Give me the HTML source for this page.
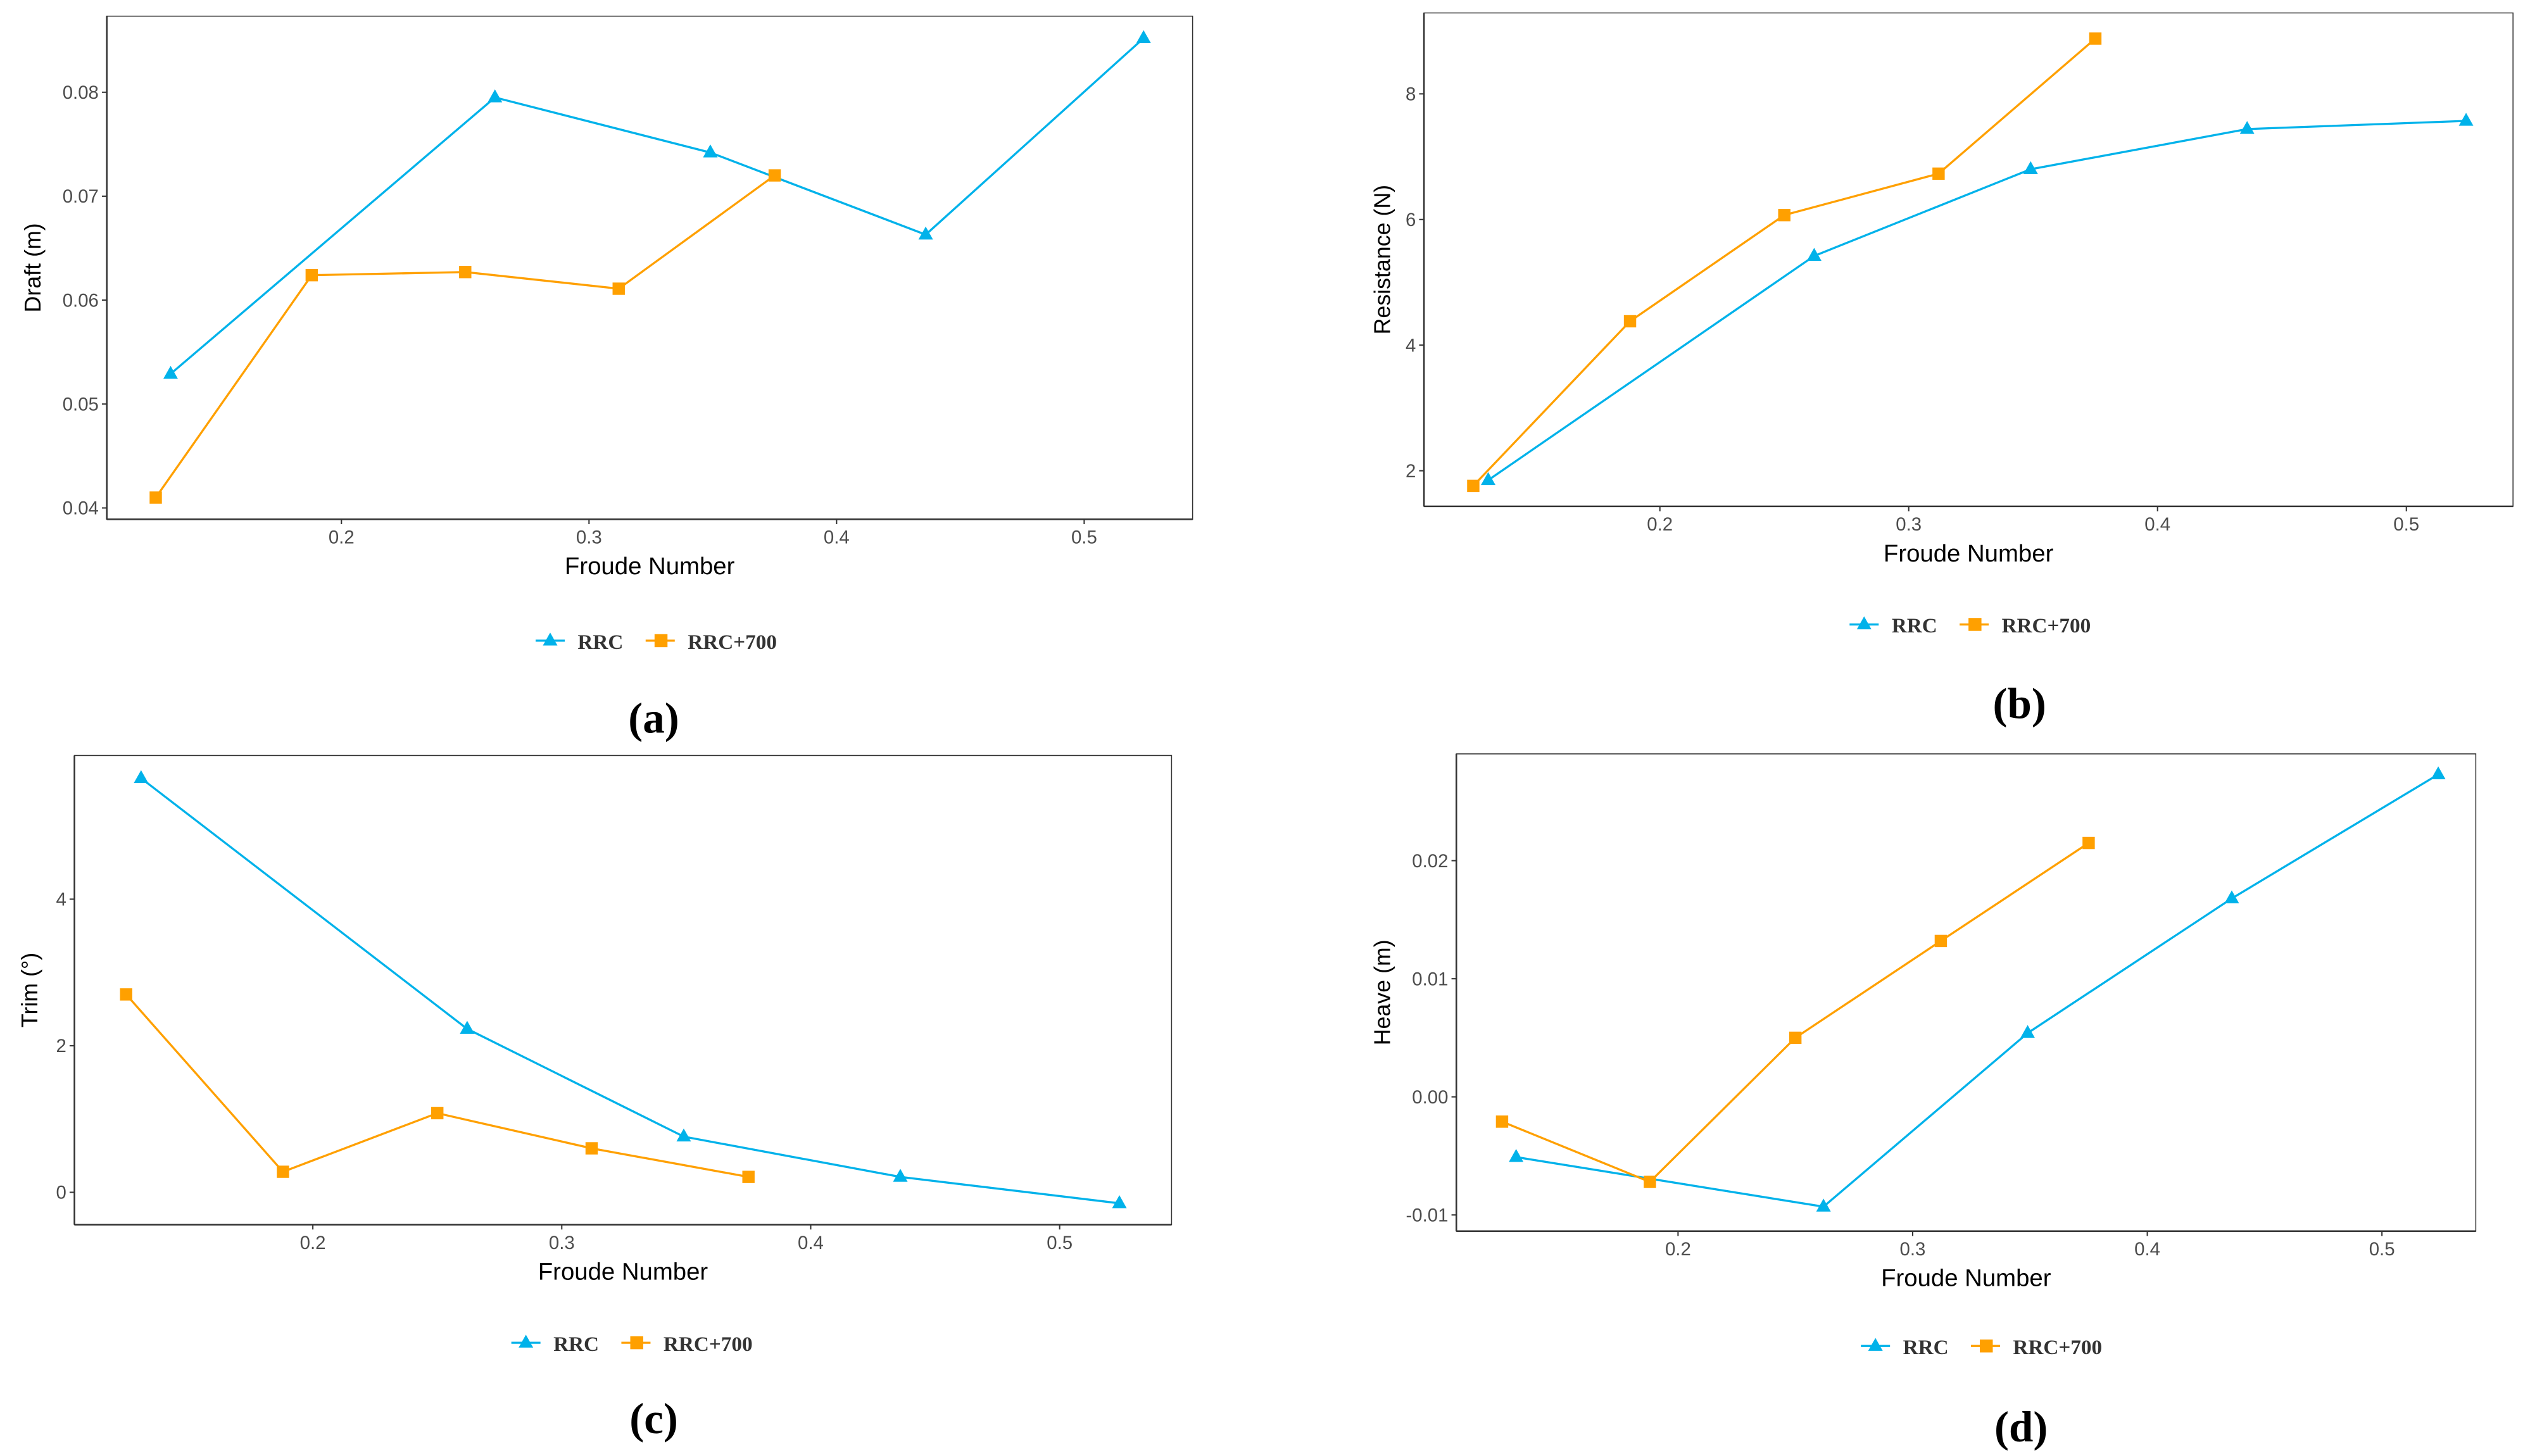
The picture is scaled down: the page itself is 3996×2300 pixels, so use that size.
<!DOCTYPE html>
<html><head><meta charset="utf-8"><style>
html,body{margin:0;padding:0;background:#fff;}
svg{display:block;}
</style></head><body>
<svg id="fig" width="3996" height="2300" viewBox="0 0 1563.5 900" preserveAspectRatio="none" xmlns="http://www.w3.org/2000/svg"></svg>
<script>
// Froude numbers
const fnRRC = [0.131, 0.262, 0.349, 0.436, 0.524];
const fnRRC700 = [0.125, 0.188, 0.25, 0.312, 0.375];
// Draft (m)
const draftRRC = [0.0529, 0.0795, 0.0742, 0.0663, 0.0852];
const draftRRC700 = [0.0410, 0.0624, 0.0627, 0.0611, 0.0720];
const draftTicks = [0.04, 0.05, 0.06, 0.07, 0.08];
const draftTickLabels = ["0.04", "0.05", "0.06", "0.07", "0.08"];
// Resistance (N)
const resRRC = [1.85, 5.42, 6.80, 7.44, 7.57];
const resRRC700 = [1.76, 4.38, 6.07, 6.73, 8.88];
const resTicks = [2, 4, 6, 8];
const resTickLabels = ["2", "4", "6", "8"];
// Trim (deg)
const trimRRC = [5.65, 2.23, 0.76, 0.21, -0.15];
const trimRRC700 = [2.70, 0.28, 1.08, 0.60, 0.21];
const trimTicks = [0, 2, 4];
const trimTickLabels = ["0", "2", "4"];
// Heave (m)
const heaveRRC = [-0.0051, -0.0093, 0.0054, 0.0168, 0.0273];
const heaveRRC700 = [-0.0021, -0.0072, 0.0050, 0.0132, 0.0215];
const heaveTicks = [-0.01, 0.00, 0.01, 0.02];
const heaveTickLabels = ["-0.01", "0.00", "0.01", "0.02"];
const xTicks = [0.2, 0.3, 0.4, 0.5];
const xTickLabels = ["0.2", "0.3", "0.4", "0.5"];

const NS = "http://www.w3.org/2000/svg";
const svg = document.getElementById('fig');
const BLUE = "#00b2ea", ORANGE = "#ffa000";
function mk(tag, attrs, parent){
  const e = document.createElementNS(NS, tag);
  for (const k in attrs) e.setAttribute(k, attrs[k]);
  (parent||svg).appendChild(e); return e;
}
function panel(o){
  const g = mk('g', {});
  
  
  const sx = v => o.x0 + (v - o.xd0)/(o.xd1 - o.xd0)*(o.x1 - o.x0);
  const sy = v => o.y1 - (v - o.yd0)/(o.yd1 - o.yd0)*(o.y1 - o.y0);
  const box = mk('rect', {x:o.x0, y:o.y0, width:o.x1-o.x0, height:o.y1-o.y0, fill:'none', stroke:'#333', 'stroke-width':0.6}, g);
  
  
  mk('line', {x1:o.x0, y1:o.y1, x2:o.x1, y2:o.y1, stroke:'#333', 'stroke-width':1}, g);
  mk('line', {x1:o.x0, y1:o.y0, x2:o.x0, y2:o.y1, stroke:'#333', 'stroke-width':1}, g);
  xTicks.forEach((t,i)=>{
    const x = sx(t);
    mk('line', {x1:x, y1:o.y1, x2:x, y2:o.y1+3, stroke:'#333', 'stroke-width':0.8}, g);
    const tx = mk('text', {x:x, y:o.y1+15, 'text-anchor':'middle', 'font-size':11.5, fill:'#4d4d4d', 'font-family':'Liberation Sans, sans-serif'}, g);
    tx.textContent = xTickLabels[i];
    
    
  });
  o.yt.forEach((t,i)=>{
    const y = sy(t);
    mk('line', {x1:o.x0-3, y1:y, x2:o.x0, y2:y, stroke:'#333', 'stroke-width':0.8}, g);
    const ty = mk('text', {x:o.x0-5, y:y+4, 'text-anchor':'end', 'font-size':11.5, fill:'#4d4d4d', 'font-family':'Liberation Sans, sans-serif'}, g);
    ty.textContent = o.ytl[i];
    
    
  });
  const xt = mk('text', {x:(o.x0+o.x1)/2, y:o.y1+34, 'text-anchor':'middle', 'font-size':15, fill:'#000', 'font-family':'Liberation Sans, sans-serif'}, g);
  xt.textContent = 'Froude Number';
  
  
  const yc = (o.y0+o.y1)/2, yx = o.ytx;
  const yt = mk('text', {x:yx, y:yc, transform:`rotate(-90 ${yx} ${yc})`, 'text-anchor':'middle', 'font-size':14, fill:'#000', 'font-family':'Liberation Sans, sans-serif'}, g);
  yt.textContent = o.ytitle;
  
  
  // series
  const series = [[fnRRC, o.a, BLUE, 'tri', 'rrc'], [fnRRC700, o.b, ORANGE, 'sq', 'rrc700']];
  series.forEach(([xs, ys, col, shp, nm])=>{
    const pts = xs.map((x,i)=>sx(x).toFixed(2)+','+sy(ys[i]).toFixed(2)).join(' ');
    const pl = mk('polyline', {points:pts, fill:'none', stroke:col, 'stroke-width':1.3}, g);
    
    
    xs.forEach((x,i)=>{
      const px = sx(x), py = sy(ys[i]);
      let m;
      if (shp==='tri') m = mk('polygon', {points:`${px},${py-5} ${px-4.5},${py+3} ${px+4.5},${py+3}`, fill:col}, g);
      else m = mk('rect', {x:px-3.8, y:py-3.8, width:7.6, height:7.6, fill:col}, g);
      
      
    });
  });
  // legend
  const lx = o.lx, ly = o.ly;
  const lg = mk('g', {}, g);
  
  
  mk('line', {x1:lx, y1:ly, x2:lx+18, y2:ly, stroke:BLUE, 'stroke-width':1.3}, lg);
  mk('polygon', {points:`${lx+9},${ly-5} ${lx+4.5},${ly+3} ${lx+13.5},${ly+3}`, fill:BLUE}, lg);
  const l1 = mk('text', {x:lx+26, y:ly+5, 'font-size':13, 'font-weight':'bold', fill:'#333', 'font-family':'Liberation Serif, serif'}, lg);
  l1.textContent = 'RRC';
  
  
  mk('line', {x1:lx+68, y1:ly, x2:lx+86, y2:ly, stroke:ORANGE, 'stroke-width':1.3}, lg);
  mk('rect', {x:lx+73.5, y:ly-4, width:8, height:8, fill:ORANGE}, lg);
  const l2 = mk('text', {x:lx+94, y:ly+5, 'font-size':13, 'font-weight':'bold', fill:'#333', 'font-family':'Liberation Serif, serif'}, lg);
  l2.textContent = 'RRC+700';
  
  
  const cap = mk('text', {x:o.cx, y:o.cy, 'text-anchor':'middle', 'font-size':27, 'font-weight':'bold', fill:'#000', 'font-family':'Liberation Serif, serif'}, g);
  cap.textContent = o.cap;
  
  
}
panel({name:'panel-a-draft', x0:66, x1:737, y0:10, y1:321, xd0:0.2-145/1530, xd1:0.5+67/1530, yd0:0.04-7/6420, yd1:0.08+47/6420,
  yt:draftTicks, ytl:draftTickLabels, ytitle:'Draft (m)', ytx:25, a:draftRRC, b:draftRRC700, lx:331, ly:396, cx:404, cy:453, cap:'(a)'});
panel({name:'panel-b-resistance', x0:880, x1:1553, y0:8, y1:313, xd0:0.2-146/1540, xd1:0.5+66/1540, yd0:2-22/38.8, yd1:8+50/38.8,
  yt:resTicks, ytl:resTickLabels, ytitle:'Resistance (N)', ytx:859, a:resRRC, b:resRRC700, lx:1143, ly:386, cx:1248, cy:444, cap:'(b)'});
panel({name:'panel-c-trim', x0:46, x1:724, y0:467, y1:757, xd0:0.2-147/1535, xd1:0.5+69/1535, yd0:-20/45.3, yd1:270/45.3,
  yt:trimTicks, ytl:trimTickLabels, ytitle:'Trim (°)', ytx:23, a:trimRRC, b:trimRRC700, lx:316, ly:830, cx:404, cy:886, cap:'(c)'});
panel({name:'panel-d-heave', x0:900, x1:1530, y0:466, y1:761, xd0:0.2-137/1450, xd1:0.5+58/1450, yd0:-0.01-10/7300, yd1:0.02+66/7300,
  yt:heaveTicks, ytl:heaveTickLabels, ytitle:'Heave (m)', ytx:859, a:heaveRRC, b:heaveRRC700, lx:1150, ly:832, cx:1249, cy:891, cap:'(d)'});
</script>
</body></html>
